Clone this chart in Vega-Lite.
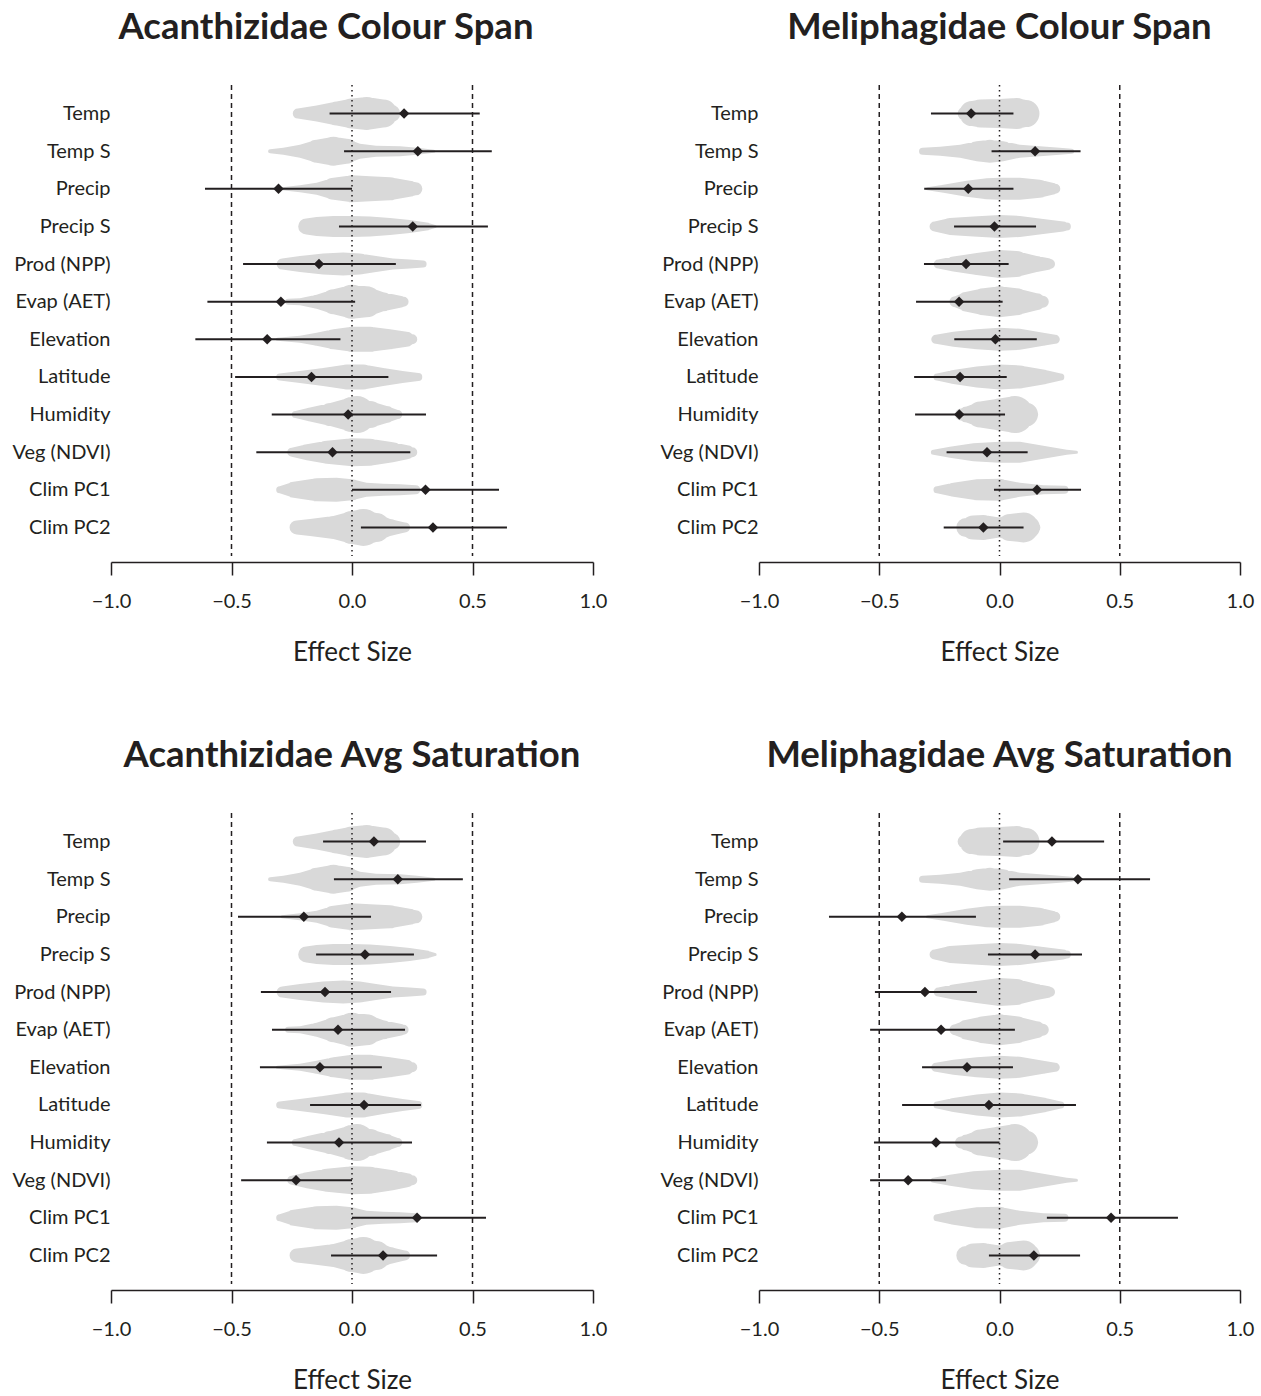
{
  "$schema": "https://vega.github.io/schema/vega-lite/v6.json",
  "padding": {"left": 12, "top": 10, "right": 5, "bottom": 0},
  "background": "white",
  "config": {"view": {"stroke": null}, "font": "Lato", "title": {"font": "Lato", "fontSize": 36.5, "fontWeight": "bold", "color": "#231f20", "offset": 37.5}},
  "datasets": {
    "refs": [{"value": -0.5, "kind": "dashed"}, {"value": 0.5, "kind": "dashed"}, {"value": 0, "kind": "dotted"}],
    "violinA": [
      {"variable": "Temp", "x": -0.225, "density": 10}, {"variable": "Temp", "x": -0.147, "density": 16}, {"variable": "Temp", "x": -0.064, "density": 24}, {"variable": "Temp", "x": 0, "density": 30}, {"variable": "Temp", "x": 0.061, "density": 33}, {"variable": "Temp", "x": 0.13, "density": 28}, {"variable": "Temp", "x": 0.165, "density": 17}, {"variable": "Temp", "x": 0.178, "density": 8},
      {"variable": "Temp S", "x": -0.34, "density": 4}, {"variable": "Temp S", "x": -0.285, "density": 7}, {"variable": "Temp S", "x": -0.216, "density": 13}, {"variable": "Temp S", "x": -0.147, "density": 23}, {"variable": "Temp S", "x": -0.077, "density": 29}, {"variable": "Temp S", "x": -0.022, "density": 25}, {"variable": "Temp S", "x": 0.033, "density": 15}, {"variable": "Temp S", "x": 0.1, "density": 11}, {"variable": "Temp S", "x": 0.2, "density": 10}, {"variable": "Temp S", "x": 0.27, "density": 7}, {"variable": "Temp S", "x": 0.34, "density": 3},
      {"variable": "Precip", "x": -0.29, "density": 3}, {"variable": "Precip", "x": -0.216, "density": 7}, {"variable": "Precip", "x": -0.147, "density": 12}, {"variable": "Precip", "x": -0.077, "density": 22}, {"variable": "Precip", "x": 0, "density": 27}, {"variable": "Precip", "x": 0.075, "density": 25}, {"variable": "Precip", "x": 0.158, "density": 23}, {"variable": "Precip", "x": 0.24, "density": 16}, {"variable": "Precip", "x": 0.265, "density": 13},
      {"variable": "Precip S", "x": -0.19, "density": 16}, {"variable": "Precip S", "x": -0.147, "density": 19}, {"variable": "Precip S", "x": -0.077, "density": 21}, {"variable": "Precip S", "x": 0, "density": 21}, {"variable": "Precip S", "x": 0.075, "density": 20}, {"variable": "Precip S", "x": 0.158, "density": 17}, {"variable": "Precip S", "x": 0.24, "density": 13}, {"variable": "Precip S", "x": 0.31, "density": 8}, {"variable": "Precip S", "x": 0.345, "density": 3},
      {"variable": "Prod (NPP)", "x": -0.29, "density": 11}, {"variable": "Prod (NPP)", "x": -0.216, "density": 16}, {"variable": "Prod (NPP)", "x": -0.12, "density": 21}, {"variable": "Prod (NPP)", "x": -0.036, "density": 23}, {"variable": "Prod (NPP)", "x": 0.033, "density": 21}, {"variable": "Prod (NPP)", "x": 0.1, "density": 16}, {"variable": "Prod (NPP)", "x": 0.17, "density": 11}, {"variable": "Prod (NPP)", "x": 0.24, "density": 9}, {"variable": "Prod (NPP)", "x": 0.295, "density": 7},
      {"variable": "Evap (AET)", "x": -0.265, "density": 6}, {"variable": "Evap (AET)", "x": -0.216, "density": 7}, {"variable": "Evap (AET)", "x": -0.147, "density": 14}, {"variable": "Evap (AET)", "x": -0.077, "density": 25}, {"variable": "Evap (AET)", "x": 0, "density": 34}, {"variable": "Evap (AET)", "x": 0.06, "density": 31}, {"variable": "Evap (AET)", "x": 0.13, "density": 19}, {"variable": "Evap (AET)", "x": 0.2, "density": 12}, {"variable": "Evap (AET)", "x": 0.214, "density": 10},
      {"variable": "Elevation", "x": -0.31, "density": 3}, {"variable": "Elevation", "x": -0.216, "density": 7}, {"variable": "Elevation", "x": -0.147, "density": 13}, {"variable": "Elevation", "x": -0.077, "density": 20}, {"variable": "Elevation", "x": 0, "density": 25}, {"variable": "Elevation", "x": 0.075, "density": 25}, {"variable": "Elevation", "x": 0.158, "density": 20}, {"variable": "Elevation", "x": 0.227, "density": 15}, {"variable": "Elevation", "x": 0.25, "density": 10},
      {"variable": "Latitude", "x": -0.3, "density": 7}, {"variable": "Latitude", "x": -0.216, "density": 12}, {"variable": "Latitude", "x": -0.12, "density": 18}, {"variable": "Latitude", "x": -0.022, "density": 25}, {"variable": "Latitude", "x": 0.047, "density": 25}, {"variable": "Latitude", "x": 0.13, "density": 18}, {"variable": "Latitude", "x": 0.21, "density": 12}, {"variable": "Latitude", "x": 0.275, "density": 8},
      {"variable": "Humidity", "x": -0.235, "density": 7}, {"variable": "Humidity", "x": -0.174, "density": 14}, {"variable": "Humidity", "x": -0.09, "density": 23}, {"variable": "Humidity", "x": 0, "density": 35}, {"variable": "Humidity", "x": 0.02, "density": 37}, {"variable": "Humidity", "x": 0.075, "density": 27}, {"variable": "Humidity", "x": 0.144, "density": 17}, {"variable": "Humidity", "x": 0.19, "density": 9},
      {"variable": "Veg (NDVI)", "x": -0.25, "density": 9}, {"variable": "Veg (NDVI)", "x": -0.188, "density": 16}, {"variable": "Veg (NDVI)", "x": -0.105, "density": 23}, {"variable": "Veg (NDVI)", "x": 0, "density": 28}, {"variable": "Veg (NDVI)", "x": 0.075, "density": 27}, {"variable": "Veg (NDVI)", "x": 0.17, "density": 20}, {"variable": "Veg (NDVI)", "x": 0.23, "density": 14}, {"variable": "Veg (NDVI)", "x": 0.25, "density": 10},
      {"variable": "Clim PC1", "x": -0.3, "density": 7}, {"variable": "Clim PC1", "x": -0.243, "density": 16}, {"variable": "Clim PC1", "x": -0.147, "density": 23}, {"variable": "Clim PC1", "x": -0.064, "density": 24}, {"variable": "Clim PC1", "x": 0, "density": 21}, {"variable": "Clim PC1", "x": 0.06, "density": 14}, {"variable": "Clim PC1", "x": 0.13, "density": 12}, {"variable": "Clim PC1", "x": 0.2, "density": 11}, {"variable": "Clim PC1", "x": 0.265, "density": 9},
      {"variable": "Clim PC2", "x": -0.23, "density": 14}, {"variable": "Clim PC2", "x": -0.174, "density": 17}, {"variable": "Clim PC2", "x": -0.077, "density": 23}, {"variable": "Clim PC2", "x": 0, "density": 33}, {"variable": "Clim PC2", "x": 0.047, "density": 37}, {"variable": "Clim PC2", "x": 0.1, "density": 29}, {"variable": "Clim PC2", "x": 0.158, "density": 17}, {"variable": "Clim PC2", "x": 0.21, "density": 11}, {"variable": "Clim PC2", "x": 0.22, "density": 10}
    ],
    "violinM": [
      {"variable": "Temp", "x": -0.145, "density": 14}, {"variable": "Temp", "x": -0.115, "density": 25}, {"variable": "Temp", "x": -0.08, "density": 28}, {"variable": "Temp", "x": 0, "density": 29}, {"variable": "Temp", "x": 0.071, "density": 31}, {"variable": "Temp", "x": 0.11, "density": 27}, {"variable": "Temp", "x": 0.145, "density": 10},
      {"variable": "Temp S", "x": -0.32, "density": 7}, {"variable": "Temp S", "x": -0.247, "density": 9}, {"variable": "Temp S", "x": -0.164, "density": 13}, {"variable": "Temp S", "x": -0.095, "density": 20}, {"variable": "Temp S", "x": -0.04, "density": 23}, {"variable": "Temp S", "x": 0.016, "density": 20}, {"variable": "Temp S", "x": 0.085, "density": 13}, {"variable": "Temp S", "x": 0.168, "density": 10}, {"variable": "Temp S", "x": 0.25, "density": 7}, {"variable": "Temp S", "x": 0.3, "density": 5},
      {"variable": "Precip", "x": -0.3, "density": 3}, {"variable": "Precip", "x": -0.233, "density": 8}, {"variable": "Precip", "x": -0.137, "density": 16}, {"variable": "Precip", "x": -0.053, "density": 21}, {"variable": "Precip", "x": 0, "density": 22}, {"variable": "Precip", "x": 0.085, "density": 22}, {"variable": "Precip", "x": 0.168, "density": 18}, {"variable": "Precip", "x": 0.22, "density": 12}, {"variable": "Precip", "x": 0.232, "density": 10},
      {"variable": "Precip S", "x": -0.27, "density": 10}, {"variable": "Precip S", "x": -0.206, "density": 17}, {"variable": "Precip S", "x": -0.109, "density": 20}, {"variable": "Precip S", "x": 0, "density": 23}, {"variable": "Precip S", "x": 0.085, "density": 21}, {"variable": "Precip S", "x": 0.182, "density": 15}, {"variable": "Precip S", "x": 0.265, "density": 10}, {"variable": "Precip S", "x": 0.28, "density": 8},
      {"variable": "Prod (NPP)", "x": -0.255, "density": 9}, {"variable": "Prod (NPP)", "x": -0.192, "density": 15}, {"variable": "Prod (NPP)", "x": -0.095, "density": 22}, {"variable": "Prod (NPP)", "x": 0, "density": 28}, {"variable": "Prod (NPP)", "x": 0.071, "density": 26}, {"variable": "Prod (NPP)", "x": 0.155, "density": 16}, {"variable": "Prod (NPP)", "x": 0.2, "density": 12}, {"variable": "Prod (NPP)", "x": 0.21, "density": 10},
      {"variable": "Evap (AET)", "x": -0.185, "density": 11}, {"variable": "Evap (AET)", "x": -0.137, "density": 20}, {"variable": "Evap (AET)", "x": -0.067, "density": 27}, {"variable": "Evap (AET)", "x": 0, "density": 31}, {"variable": "Evap (AET)", "x": 0.071, "density": 27}, {"variable": "Evap (AET)", "x": 0.155, "density": 17}, {"variable": "Evap (AET)", "x": 0.18, "density": 12},
      {"variable": "Elevation", "x": -0.265, "density": 9}, {"variable": "Elevation", "x": -0.192, "density": 15}, {"variable": "Elevation", "x": -0.095, "density": 20}, {"variable": "Elevation", "x": 0, "density": 23}, {"variable": "Elevation", "x": 0.085, "density": 21}, {"variable": "Elevation", "x": 0.182, "density": 13}, {"variable": "Elevation", "x": 0.232, "density": 9},
      {"variable": "Latitude", "x": -0.26, "density": 7}, {"variable": "Latitude", "x": -0.192, "density": 14}, {"variable": "Latitude", "x": -0.095, "density": 21}, {"variable": "Latitude", "x": 0, "density": 25}, {"variable": "Latitude", "x": 0.085, "density": 23}, {"variable": "Latitude", "x": 0.182, "density": 15}, {"variable": "Latitude", "x": 0.255, "density": 7},
      {"variable": "Humidity", "x": -0.16, "density": 12}, {"variable": "Humidity", "x": -0.137, "density": 16}, {"variable": "Humidity", "x": -0.081, "density": 26}, {"variable": "Humidity", "x": 0, "density": 32}, {"variable": "Humidity", "x": 0.064, "density": 37}, {"variable": "Humidity", "x": 0.11, "density": 24}, {"variable": "Humidity", "x": 0.14, "density": 10},
      {"variable": "Veg (NDVI)", "x": -0.275, "density": 5}, {"variable": "Veg (NDVI)", "x": -0.206, "density": 11}, {"variable": "Veg (NDVI)", "x": -0.109, "density": 18}, {"variable": "Veg (NDVI)", "x": 0, "density": 21}, {"variable": "Veg (NDVI)", "x": 0.085, "density": 21}, {"variable": "Veg (NDVI)", "x": 0.182, "density": 13}, {"variable": "Veg (NDVI)", "x": 0.28, "density": 5}, {"variable": "Veg (NDVI)", "x": 0.32, "density": 3},
      {"variable": "Clim PC1", "x": -0.26, "density": 7}, {"variable": "Clim PC1", "x": -0.192, "density": 14}, {"variable": "Clim PC1", "x": -0.095, "density": 21}, {"variable": "Clim PC1", "x": 0, "density": 22}, {"variable": "Clim PC1", "x": 0.085, "density": 14}, {"variable": "Clim PC1", "x": 0.182, "density": 9}, {"variable": "Clim PC1", "x": 0.27, "density": 8},
      {"variable": "Clim PC2", "x": -0.14, "density": 19}, {"variable": "Clim PC2", "x": -0.11, "density": 24}, {"variable": "Clim PC2", "x": -0.067, "density": 25}, {"variable": "Clim PC2", "x": 0, "density": 20}, {"variable": "Clim PC2", "x": 0.044, "density": 27}, {"variable": "Clim PC2", "x": 0.1, "density": 30}, {"variable": "Clim PC2", "x": 0.12, "density": 23}, {"variable": "Clim PC2", "x": 0.145, "density": 12}
    ],
    "estACS": [
      {"variable": "Temp", "estimate": 0.216, "lower": -0.093, "upper": 0.53},
      {"variable": "Temp S", "estimate": 0.273, "lower": -0.033, "upper": 0.58},
      {"variable": "Precip", "estimate": -0.305, "lower": -0.61, "upper": 0.0},
      {"variable": "Precip S", "estimate": 0.252, "lower": -0.054, "upper": 0.564},
      {"variable": "Prod (NPP)", "estimate": -0.137, "lower": -0.452, "upper": 0.182},
      {"variable": "Evap (AET)", "estimate": -0.295, "lower": -0.6, "upper": 0.013},
      {"variable": "Elevation", "estimate": -0.352, "lower": -0.65, "upper": -0.048},
      {"variable": "Latitude", "estimate": -0.168, "lower": -0.485, "upper": 0.151},
      {"variable": "Humidity", "estimate": -0.016, "lower": -0.333, "upper": 0.307},
      {"variable": "Veg (NDVI)", "estimate": -0.081, "lower": -0.397, "upper": 0.242},
      {"variable": "Clim PC1", "estimate": 0.305, "lower": 0.0, "upper": 0.61},
      {"variable": "Clim PC2", "estimate": 0.336, "lower": 0.037, "upper": 0.643}
    ],
    "estMCS": [
      {"variable": "Temp", "estimate": -0.118, "lower": -0.285, "upper": 0.058},
      {"variable": "Temp S", "estimate": 0.148, "lower": -0.033, "upper": 0.337},
      {"variable": "Precip", "estimate": -0.13, "lower": -0.313, "upper": 0.058},
      {"variable": "Precip S", "estimate": -0.021, "lower": -0.189, "upper": 0.152},
      {"variable": "Prod (NPP)", "estimate": -0.139, "lower": -0.314, "upper": 0.038},
      {"variable": "Evap (AET)", "estimate": -0.168, "lower": -0.347, "upper": 0.013},
      {"variable": "Elevation", "estimate": -0.017, "lower": -0.188, "upper": 0.155},
      {"variable": "Latitude", "estimate": -0.164, "lower": -0.355, "upper": 0.03},
      {"variable": "Humidity", "estimate": -0.167, "lower": -0.351, "upper": 0.023},
      {"variable": "Veg (NDVI)", "estimate": -0.052, "lower": -0.22, "upper": 0.117},
      {"variable": "Clim PC1", "estimate": 0.156, "lower": -0.023, "upper": 0.339},
      {"variable": "Clim PC2", "estimate": -0.067, "lower": -0.232, "upper": 0.1}
    ],
    "estAAS": [
      {"variable": "Temp", "estimate": 0.091, "lower": -0.12, "upper": 0.307},
      {"variable": "Temp S", "estimate": 0.19, "lower": -0.075, "upper": 0.46},
      {"variable": "Precip", "estimate": -0.2, "lower": -0.473, "upper": 0.079},
      {"variable": "Precip S", "estimate": 0.054, "lower": -0.149, "upper": 0.257},
      {"variable": "Prod (NPP)", "estimate": -0.112, "lower": -0.378, "upper": 0.162},
      {"variable": "Evap (AET)", "estimate": -0.058, "lower": -0.332, "upper": 0.22},
      {"variable": "Elevation", "estimate": -0.133, "lower": -0.382, "upper": 0.124},
      {"variable": "Latitude", "estimate": 0.05, "lower": -0.174, "upper": 0.286},
      {"variable": "Humidity", "estimate": -0.054, "lower": -0.353, "upper": 0.249},
      {"variable": "Veg (NDVI)", "estimate": -0.232, "lower": -0.46, "upper": 0.0},
      {"variable": "Clim PC1", "estimate": 0.27, "lower": 0.0, "upper": 0.556},
      {"variable": "Clim PC2", "estimate": 0.129, "lower": -0.087, "upper": 0.353}
    ],
    "estMAS": [
      {"variable": "Temp", "estimate": 0.218, "lower": 0.015, "upper": 0.435},
      {"variable": "Temp S", "estimate": 0.326, "lower": 0.04, "upper": 0.626},
      {"variable": "Precip", "estimate": -0.406, "lower": -0.709, "upper": -0.098},
      {"variable": "Precip S", "estimate": 0.148, "lower": -0.048, "upper": 0.343},
      {"variable": "Prod (NPP)", "estimate": -0.31, "lower": -0.518, "upper": -0.094},
      {"variable": "Evap (AET)", "estimate": -0.243, "lower": -0.538, "upper": 0.064},
      {"variable": "Elevation", "estimate": -0.135, "lower": -0.322, "upper": 0.056},
      {"variable": "Latitude", "estimate": -0.044, "lower": -0.405, "upper": 0.318},
      {"variable": "Humidity", "estimate": -0.264, "lower": -0.522, "upper": 0.0},
      {"variable": "Veg (NDVI)", "estimate": -0.38, "lower": -0.538, "upper": -0.222},
      {"variable": "Clim PC1", "estimate": 0.464, "lower": 0.197, "upper": 0.742},
      {"variable": "Clim PC2", "estimate": 0.143, "lower": -0.044, "upper": 0.335}
    ]
  },
  "spacing": 73,
  "vconcat": [
    {
      "spacing": 53,
      "hconcat": [
        {
          "title": {"text": "Acanthizidae Colour Span", "dx": -26},
          "width": 482, "height": 471,
          "layer": [
            {"data": {"name": "violinA"}, "mark": {"type": "trail", "color": "#d9d9d9"},
             "encoding": {
               "x": {"field": "x", "type": "quantitative", "scale": {"domain": [-1, 1]}, "axis": {"title": "Effect Size", "values": [-1, -0.5, 0, 0.5, 1], "format": ".1f", "grid": false, "domainColor": "#231f20", "domainWidth": 1.5, "tickColor": "#231f20", "tickWidth": 1.5, "tickSize": 13, "labelFontSize": 20, "labelPadding": 16, "labelColor": "#231f20", "labelFlush": false, "titleFontSize": 26, "titleFontWeight": "normal", "titlePadding": 28, "titleColor": "#231f20", "offset": 6}},
               "y": {"field": "variable", "type": "nominal", "sort": null, "scale": {"type": "point", "padding": 0.76, "domain": ["Temp", "Temp S", "Precip", "Precip S", "Prod (NPP)", "Evap (AET)", "Elevation", "Latitude", "Humidity", "Veg (NDVI)", "Clim PC1", "Clim PC2"]}, "axis": {"title": null, "domain": false, "ticks": false, "labelFontSize": 20, "labelPadding": 1, "labelColor": "#231f20"}},
               "detail": {"field": "variable", "type": "nominal"},
               "order": {"field": "x", "type": "quantitative"},
               "size": {"field": "density", "type": "quantitative", "scale": {"domain": [0, 40], "range": [0, 40]}, "legend": null}
             }},
            {"data": {"name": "refs"}, "transform": [{"filter": "datum.kind === 'dashed'"}], "mark": {"type": "rule", "color": "#231f20", "strokeWidth": 1.5, "strokeDash": [5, 4]}, "encoding": {"x": {"field": "value", "type": "quantitative"}}},
            {"data": {"name": "refs"}, "transform": [{"filter": "datum.kind === 'dotted'"}], "mark": {"type": "rule", "color": "#231f20", "strokeWidth": 1.5, "strokeDash": [1.5, 3.5]}, "encoding": {"x": {"field": "value", "type": "quantitative"}}},
            {"data": {"name": "estACS"}, "mark": {"type": "rule", "color": "#231f20", "strokeWidth": 2}, "encoding": {"x": {"field": "lower", "type": "quantitative"}, "x2": {"field": "upper"}, "y": {"field": "variable", "type": "nominal", "sort": null}}},
            {"data": {"name": "estACS"}, "mark": {"type": "point", "shape": "diamond", "filled": true, "size": 110, "color": "#231f20", "opacity": 1}, "encoding": {"x": {"field": "estimate", "type": "quantitative"}, "y": {"field": "variable", "type": "nominal", "sort": null}}}
          ]
        },
        {
          "title": {"text": "Meliphagidae Colour Span"},
          "width": 481, "height": 471,
          "layer": [
            {"data": {"name": "violinM"}, "mark": {"type": "trail", "color": "#d9d9d9"},
             "encoding": {
               "x": {"field": "x", "type": "quantitative", "scale": {"domain": [-1, 1]}, "axis": {"title": "Effect Size", "values": [-1, -0.5, 0, 0.5, 1], "format": ".1f", "grid": false, "domainColor": "#231f20", "domainWidth": 1.5, "tickColor": "#231f20", "tickWidth": 1.5, "tickSize": 13, "labelFontSize": 20, "labelPadding": 16, "labelColor": "#231f20", "labelFlush": false, "titleFontSize": 26, "titleFontWeight": "normal", "titlePadding": 28, "titleColor": "#231f20", "offset": 6}},
               "y": {"field": "variable", "type": "nominal", "sort": null, "scale": {"type": "point", "padding": 0.76, "domain": ["Temp", "Temp S", "Precip", "Precip S", "Prod (NPP)", "Evap (AET)", "Elevation", "Latitude", "Humidity", "Veg (NDVI)", "Clim PC1", "Clim PC2"]}, "axis": {"title": null, "domain": false, "ticks": false, "labelFontSize": 20, "labelPadding": 1, "labelColor": "#231f20"}},
               "detail": {"field": "variable", "type": "nominal"},
               "order": {"field": "x", "type": "quantitative"},
               "size": {"field": "density", "type": "quantitative", "scale": {"domain": [0, 40], "range": [0, 40]}, "legend": null}
             }},
            {"data": {"name": "refs"}, "transform": [{"filter": "datum.kind === 'dashed'"}], "mark": {"type": "rule", "color": "#231f20", "strokeWidth": 1.5, "strokeDash": [5, 4]}, "encoding": {"x": {"field": "value", "type": "quantitative"}}},
            {"data": {"name": "refs"}, "transform": [{"filter": "datum.kind === 'dotted'"}], "mark": {"type": "rule", "color": "#231f20", "strokeWidth": 1.5, "strokeDash": [1.5, 3.5]}, "encoding": {"x": {"field": "value", "type": "quantitative"}}},
            {"data": {"name": "estMCS"}, "mark": {"type": "rule", "color": "#231f20", "strokeWidth": 2}, "encoding": {"x": {"field": "lower", "type": "quantitative"}, "x2": {"field": "upper"}, "y": {"field": "variable", "type": "nominal", "sort": null}}},
            {"data": {"name": "estMCS"}, "mark": {"type": "point", "shape": "diamond", "filled": true, "size": 110, "color": "#231f20", "opacity": 1}, "encoding": {"x": {"field": "estimate", "type": "quantitative"}, "y": {"field": "variable", "type": "nominal", "sort": null}}}
          ]
        }
      ]
    },
    {
      "spacing": 53,
      "hconcat": [
        {
          "title": {"text": "Acanthizidae Avg Saturation"},
          "width": 482, "height": 471,
          "layer": [
            {"data": {"name": "violinA"}, "mark": {"type": "trail", "color": "#d9d9d9"},
             "encoding": {
               "x": {"field": "x", "type": "quantitative", "scale": {"domain": [-1, 1]}, "axis": {"title": "Effect Size", "values": [-1, -0.5, 0, 0.5, 1], "format": ".1f", "grid": false, "domainColor": "#231f20", "domainWidth": 1.5, "tickColor": "#231f20", "tickWidth": 1.5, "tickSize": 13, "labelFontSize": 20, "labelPadding": 16, "labelColor": "#231f20", "labelFlush": false, "titleFontSize": 26, "titleFontWeight": "normal", "titlePadding": 28, "titleColor": "#231f20", "offset": 6}},
               "y": {"field": "variable", "type": "nominal", "sort": null, "scale": {"type": "point", "padding": 0.76, "domain": ["Temp", "Temp S", "Precip", "Precip S", "Prod (NPP)", "Evap (AET)", "Elevation", "Latitude", "Humidity", "Veg (NDVI)", "Clim PC1", "Clim PC2"]}, "axis": {"title": null, "domain": false, "ticks": false, "labelFontSize": 20, "labelPadding": 1, "labelColor": "#231f20"}},
               "detail": {"field": "variable", "type": "nominal"},
               "order": {"field": "x", "type": "quantitative"},
               "size": {"field": "density", "type": "quantitative", "scale": {"domain": [0, 40], "range": [0, 40]}, "legend": null}
             }},
            {"data": {"name": "refs"}, "transform": [{"filter": "datum.kind === 'dashed'"}], "mark": {"type": "rule", "color": "#231f20", "strokeWidth": 1.5, "strokeDash": [5, 4]}, "encoding": {"x": {"field": "value", "type": "quantitative"}}},
            {"data": {"name": "refs"}, "transform": [{"filter": "datum.kind === 'dotted'"}], "mark": {"type": "rule", "color": "#231f20", "strokeWidth": 1.5, "strokeDash": [1.5, 3.5]}, "encoding": {"x": {"field": "value", "type": "quantitative"}}},
            {"data": {"name": "estAAS"}, "mark": {"type": "rule", "color": "#231f20", "strokeWidth": 2}, "encoding": {"x": {"field": "lower", "type": "quantitative"}, "x2": {"field": "upper"}, "y": {"field": "variable", "type": "nominal", "sort": null}}},
            {"data": {"name": "estAAS"}, "mark": {"type": "point", "shape": "diamond", "filled": true, "size": 110, "color": "#231f20", "opacity": 1}, "encoding": {"x": {"field": "estimate", "type": "quantitative"}, "y": {"field": "variable", "type": "nominal", "sort": null}}}
          ]
        },
        {
          "title": {"text": "Meliphagidae Avg Saturation"},
          "width": 481, "height": 471,
          "layer": [
            {"data": {"name": "violinM"}, "mark": {"type": "trail", "color": "#d9d9d9"},
             "encoding": {
               "x": {"field": "x", "type": "quantitative", "scale": {"domain": [-1, 1]}, "axis": {"title": "Effect Size", "values": [-1, -0.5, 0, 0.5, 1], "format": ".1f", "grid": false, "domainColor": "#231f20", "domainWidth": 1.5, "tickColor": "#231f20", "tickWidth": 1.5, "tickSize": 13, "labelFontSize": 20, "labelPadding": 16, "labelColor": "#231f20", "labelFlush": false, "titleFontSize": 26, "titleFontWeight": "normal", "titlePadding": 28, "titleColor": "#231f20", "offset": 6}},
               "y": {"field": "variable", "type": "nominal", "sort": null, "scale": {"type": "point", "padding": 0.76, "domain": ["Temp", "Temp S", "Precip", "Precip S", "Prod (NPP)", "Evap (AET)", "Elevation", "Latitude", "Humidity", "Veg (NDVI)", "Clim PC1", "Clim PC2"]}, "axis": {"title": null, "domain": false, "ticks": false, "labelFontSize": 20, "labelPadding": 1, "labelColor": "#231f20"}},
               "detail": {"field": "variable", "type": "nominal"},
               "order": {"field": "x", "type": "quantitative"},
               "size": {"field": "density", "type": "quantitative", "scale": {"domain": [0, 40], "range": [0, 40]}, "legend": null}
             }},
            {"data": {"name": "refs"}, "transform": [{"filter": "datum.kind === 'dashed'"}], "mark": {"type": "rule", "color": "#231f20", "strokeWidth": 1.5, "strokeDash": [5, 4]}, "encoding": {"x": {"field": "value", "type": "quantitative"}}},
            {"data": {"name": "refs"}, "transform": [{"filter": "datum.kind === 'dotted'"}], "mark": {"type": "rule", "color": "#231f20", "strokeWidth": 1.5, "strokeDash": [1.5, 3.5]}, "encoding": {"x": {"field": "value", "type": "quantitative"}}},
            {"data": {"name": "estMAS"}, "mark": {"type": "rule", "color": "#231f20", "strokeWidth": 2}, "encoding": {"x": {"field": "lower", "type": "quantitative"}, "x2": {"field": "upper"}, "y": {"field": "variable", "type": "nominal", "sort": null}}},
            {"data": {"name": "estMAS"}, "mark": {"type": "point", "shape": "diamond", "filled": true, "size": 110, "color": "#231f20", "opacity": 1}, "encoding": {"x": {"field": "estimate", "type": "quantitative"}, "y": {"field": "variable", "type": "nominal", "sort": null}}}
          ]
        }
      ]
    }
  ]
}
